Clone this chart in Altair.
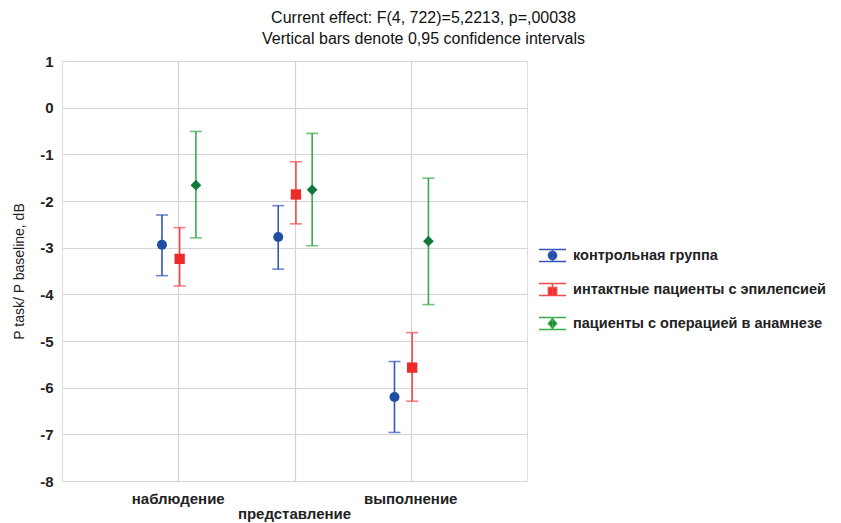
import altair as alt
import pandas as pd

categories = ["наблюдение", "представление", "выполнение"]
cat_pos = [1, 2, 3]
label_row = [0, 1, 0]

series = ["контрольная группа", "интактные пациенты с эпилепсией", "пациенты с операцией в анамнезе"]
offsets = [-0.14, 0.012, 0.152]

mean_ctrl = [-2.94, -2.77, -6.20]
low_ctrl = [-3.60, -3.46, -6.96]
up_ctrl = [-2.30, -2.10, -5.44]

mean_int = [-3.24, -1.86, -5.57]
low_int = [-3.82, -2.49, -6.29]
up_int = [-2.57, -1.16, -4.82]

mean_op = [-1.66, -1.76, -2.86]
low_op = [-2.79, -2.96, -4.22]
up_op = [-0.51, -0.55, -1.51]

marker_colors = ["#1f4ea3", "#ee2a2a", "#11783a"]
bar_colors = ["#3556b8", "#f04a4a", "#3aaa4c"]
marker_shapes = ["circle", "square", "diamond"]

legend_paths = [
    "M-1,-0.44H1M-1,0.44H1M0,-0.44V0.44M-0.3,0A0.3,0.3 0 1,0 0.3,0A0.3,0.3 0 1,0 -0.3,0Z",
    "M-1,-0.44H1M-1,0.44H1M0,-0.44V0.44M-0.3,-0.15H0.3V0.44H-0.3Z",
    "M-1,-0.44H1M-1,0.44H1M0,-0.44V0.44M0,-0.36L0.3,0L0,0.36L-0.3,0Z",
]

rows = []
for s, off, m, lo, up in zip(series, offsets,
                             [mean_ctrl, mean_int, mean_op],
                             [low_ctrl, low_int, low_op],
                             [up_ctrl, up_int, up_op]):
    for c, p, mv, lv, uv in zip(categories, cat_pos, m, lo, up):
        rows.append({"series": s, "category": c, "x": p + off,
                     "mean": mv, "low": lv, "up": uv})
df = pd.DataFrame(rows)

labels_df = pd.DataFrame({"category": categories, "pos": cat_pos, "row": label_row})

W, H = 465, 420
FONT = "Liberation Sans"

xscale = alt.Scale(domain=[0, 4], nice=False, zero=False)
yscale = alt.Scale(domain=[-8, 1], nice=False, zero=False)

x_enc = alt.X("x:Q", scale=xscale,
              axis=alt.Axis(values=[1, 2, 3], labels=False, ticks=False, title=None,
                            grid=True, gridColor="#d4d4d4", gridWidth=1.2, domain=False))
y_enc = alt.Y("mean:Q", scale=yscale,
              axis=alt.Axis(values=list(range(-8, 2)), labelExpr="'' + datum.value", ticks=False,
                            grid=True, gridColor="#d4d4d4", gridWidth=1.2, domain=False,
                            labelFont=FONT, labelFontSize=15, labelFontWeight="bold",
                            labelColor="#222222", labelPadding=9,
                            title="P task/ P baseline,  dB", titleFont=FONT,
                            titleFontSize=14, titleFontWeight="normal", titleColor="#222222",
                            titlePadding=13))

bar_color = alt.Color("series:N", scale=alt.Scale(domain=series, range=bar_colors), legend=None)

base = alt.Chart(df)

rules = base.mark_rule(strokeWidth=1.6).encode(
    x=x_enc, y=alt.Y("low:Q", scale=yscale), y2="up:Q",
    color=bar_color)
cap_lo = base.mark_tick(size=12, thickness=1.6, orient="horizontal").encode(
    x="x:Q", y=alt.Y("low:Q", scale=yscale), color=bar_color)
cap_up = base.mark_tick(size=12, thickness=1.6, orient="horizontal").encode(
    x="x:Q", y=alt.Y("up:Q", scale=yscale), color=bar_color)

points = base.mark_point(filled=True, opacity=1).encode(
    x="x:Q", y=y_enc,
    fill=alt.Fill("series:N", scale=alt.Scale(domain=series, range=marker_colors), legend=None),
    shape=alt.Shape("series:N", scale=alt.Scale(domain=series, range=marker_shapes), legend=None),
    size=alt.Size("series:N", scale=alt.Scale(domain=series, range=[100, 115, 95]), legend=None),
)

leg = alt.Legend(title=None, orient="none", legendX=476, legendY=180,
                 symbolSize=729, symbolStrokeWidth=1.6, symbolOpacity=1,
                 symbolFillColor="#000000", symbolStrokeColor="#000000",
                 labelFont=FONT, labelFontSize=14.5,
                 labelFontWeight="bold", labelColor="#222222",
                 labelOffset=6, rowPadding=10, labelLimit=400)

legend_layer = base.mark_point(filled=True, opacity=0).encode(
    x="x:Q", y="mean:Q",
    stroke=alt.Stroke("series:N", scale=alt.Scale(domain=series, range=bar_colors), legend=leg),
    fill=alt.Fill("series:N", scale=alt.Scale(domain=series, range=marker_colors), legend=leg),
    shape=alt.Shape("series:N", scale=alt.Scale(domain=series, range=legend_paths), legend=leg),
)

text_top = alt.Chart(labels_df).transform_filter("datum.row == 0").mark_text(
    font=FONT, fontSize=15, fontWeight="bold", color="#222222", baseline="middle"
).encode(x=alt.X("pos:Q", scale=xscale), y=alt.value(H + 18), text="category:N")
text_bot = alt.Chart(labels_df).transform_filter("datum.row == 1").mark_text(
    font=FONT, fontSize=15, fontWeight="bold", color="#222222", baseline="middle"
).encode(x=alt.X("pos:Q", scale=xscale), y=alt.value(H + 33), text="category:N")

chart = alt.layer(rules, cap_lo, cap_up, legend_layer, points, text_top, text_bot).properties(
    width=W, height=H,
    title=alt.TitleParams(
        text=["Current effect: F(4, 722)=5,2213, p=,00038",
              "Vertical bars denote 0,95 confidence intervals"],
        font=FONT, fontSize=16, fontWeight="normal", color="#111111",
        anchor="middle", dx=129, offset=7, lineHeight=21),
    autosize=alt.AutoSizeParams(type="none"),
    padding={"left": 54, "top": 53, "right": 306, "bottom": 42},
).resolve_scale(fill="independent", stroke="independent", shape="independent",
                size="independent", color="independent").configure_view(
    stroke="#444444", strokeWidth=1.8
).configure(background="white")

chart.save("out.html", embed_options={"renderer": "svg", "actions": False})
